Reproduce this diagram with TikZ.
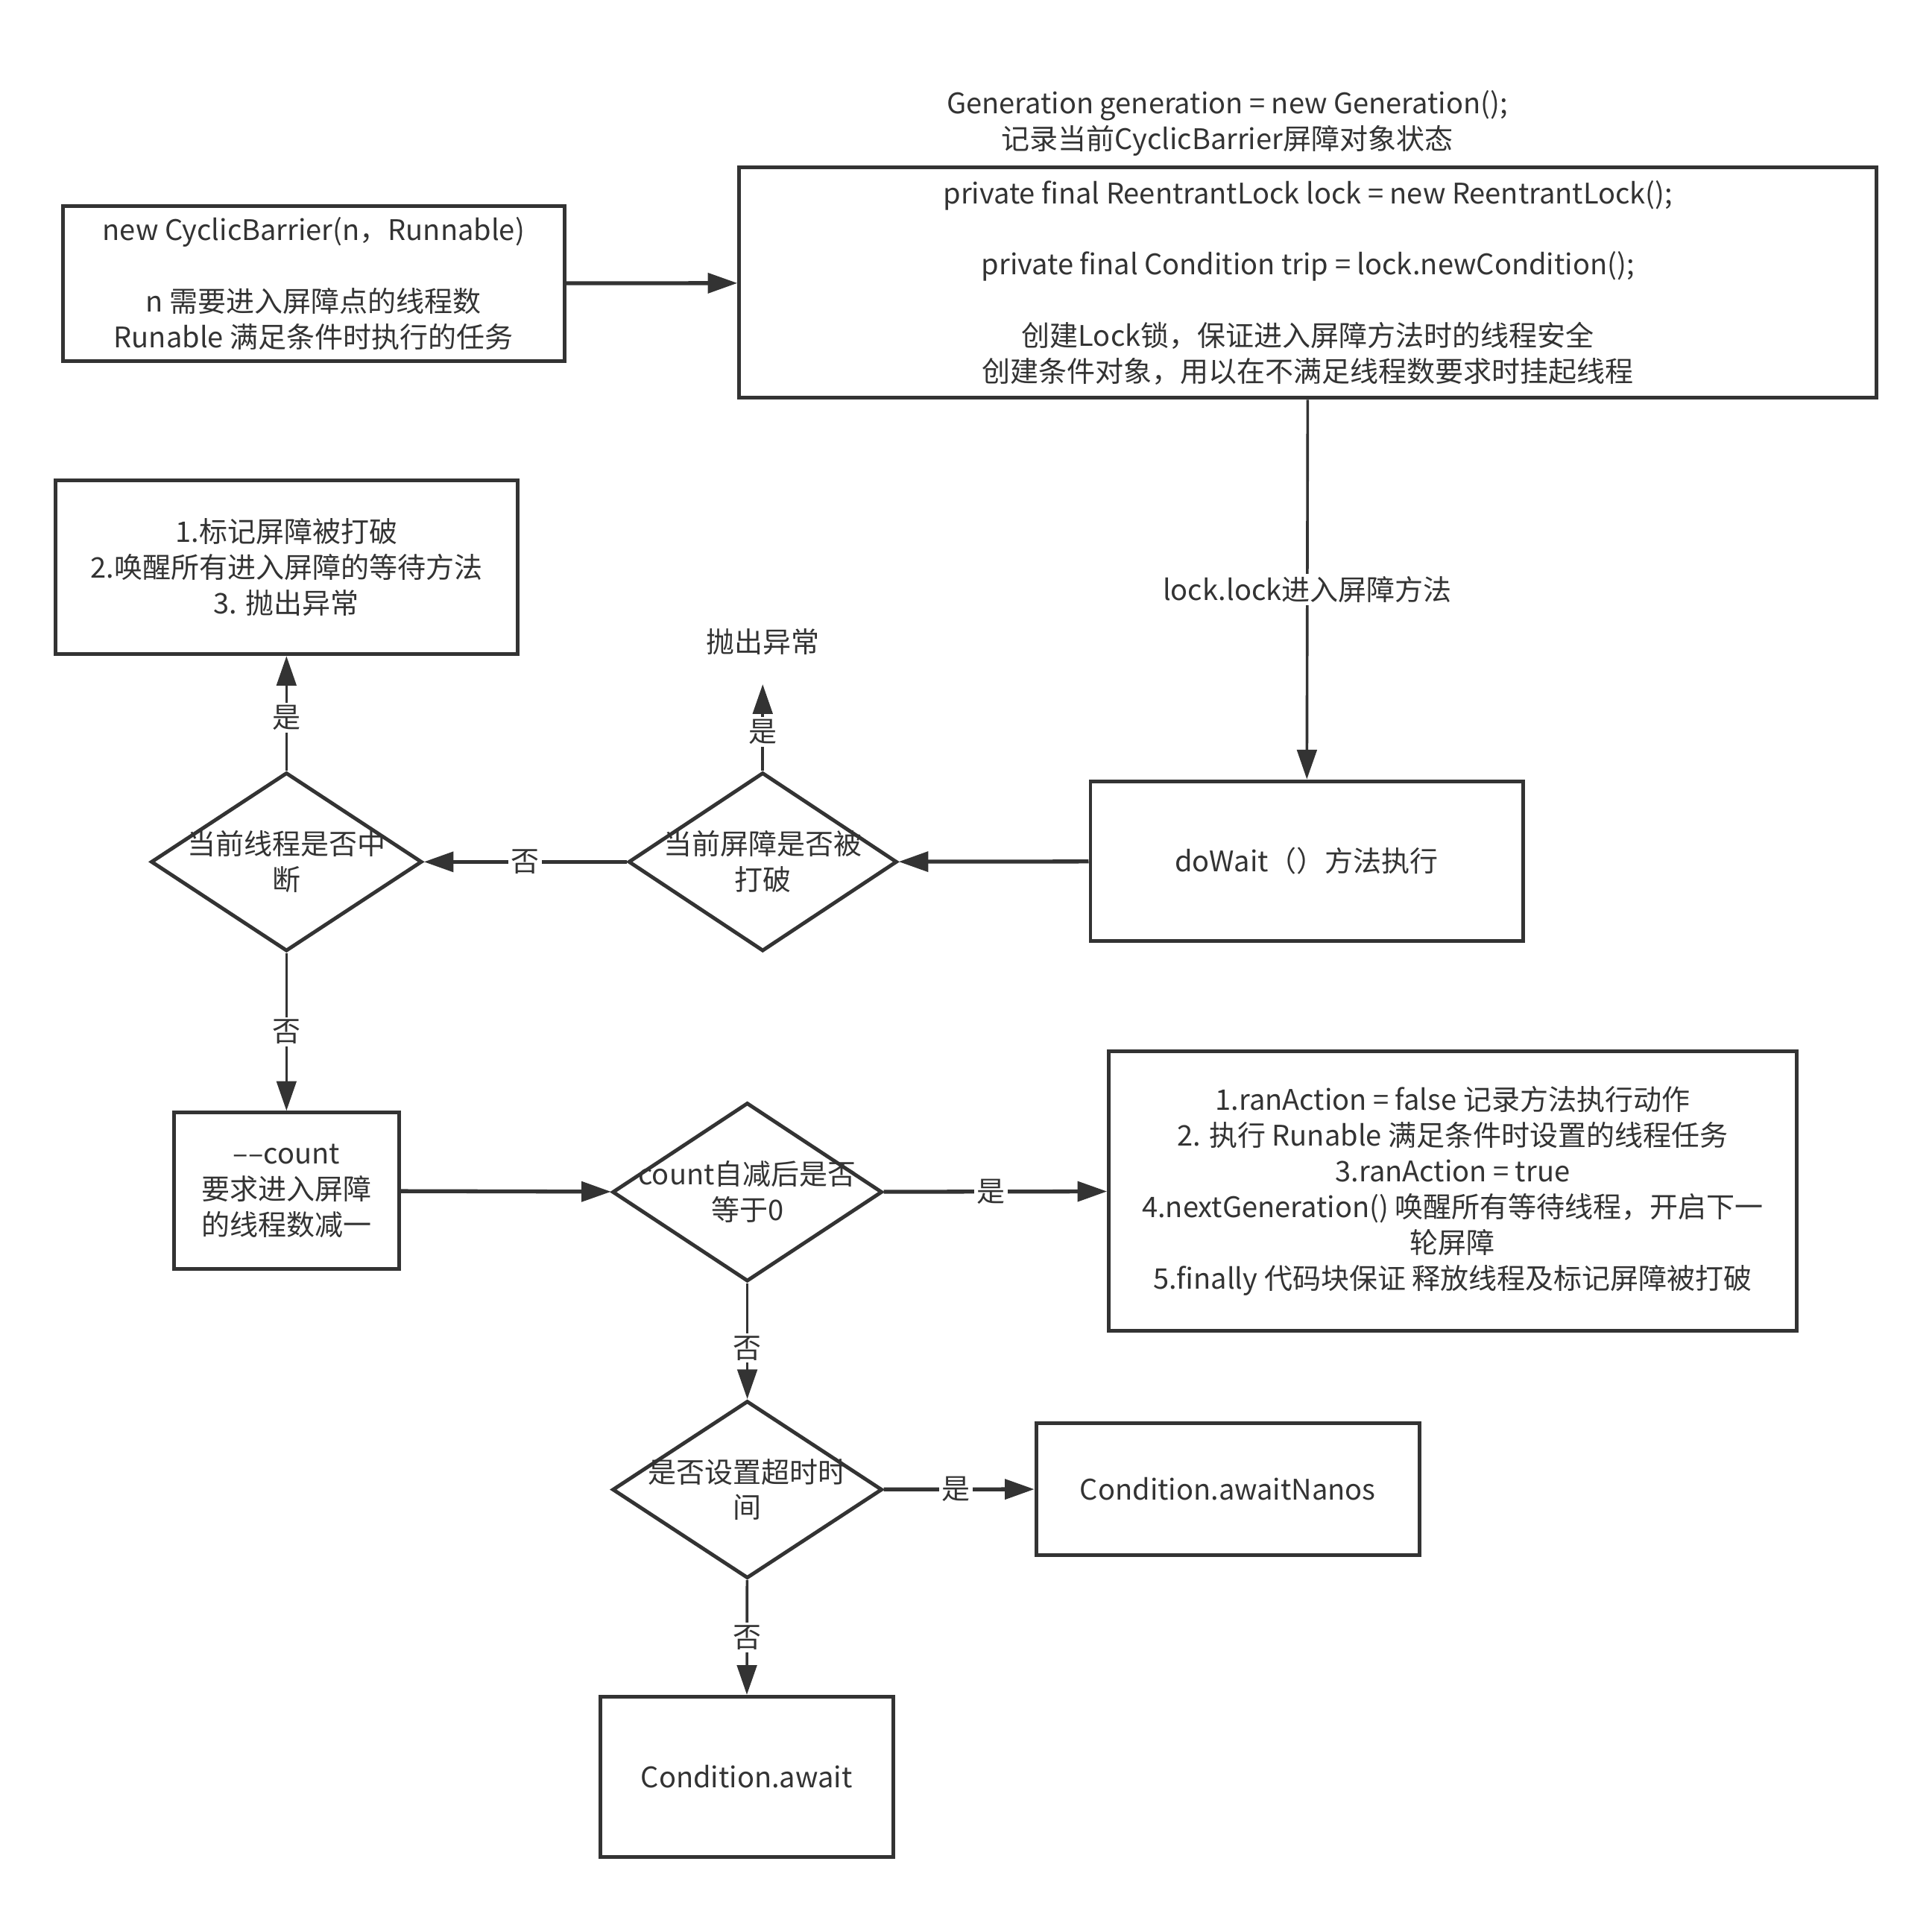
\documentclass[tikz,border=0pt]{standalone}
\usepackage{fontspec}
\setmainfont{Noto Sans CJK SC}
\usepackage{tikz}
\usetikzlibrary{shapes.geometric,arrows.meta}
\definecolor{ink}{HTML}{333333}
\tikzstyle{block} = [rectangle, draw=ink, line width=1.5pt, fill=white, align=center, text=ink, inner sep=2pt]
\tikzstyle{decision} = [diamond, draw=ink, line width=1.5pt, fill=white, inner sep=0pt]
\tikzstyle{plain} = [draw=none, align=center, text=ink]
\tikzstyle{tag} = [fill=white, inner sep=1pt, text=ink]
\tikzstyle{flow} = [draw=ink, line width=1.1pt]
\tikzstyle{thickflow} = [draw=ink, line width=1.6pt]

\begin{document}
\begin{tikzpicture}[->,>={Triangle[length=12pt,width=8pt]},x=0.5pt,y=-0.5pt,
  font=\fontsize{11.5pt}{14.5pt}\selectfont]
  \useasboundingbox (0,0) rectangle (1568,1553);

  \node[plain] (gen) at (996,100) {Generation generation = new Generation();\\记录当前CyclicBarrier屏障对象状态};
  \node[block, minimum width=203.5pt, minimum height=63pt] (create) at (254.5,230)
    {new CyclicBarrier(n，Runnable)\\[14.5pt]n 需要进入屏障点的线程数\\Runable 满足条件时执行的任务};
  \node[block, minimum width=461.5pt, minimum height=93.5pt] (fields) at (1061.5,229.5)
    {private final ReentrantLock lock = new ReentrantLock();\\[14.5pt]private final Condition trip = lock.newCondition();\\[14.5pt]创建Lock锁，保证进入屏障方法时的线程安全\\创建条件对象，用以在不满足线程数要求时挂起线程};
  \node[block, minimum width=175.5pt, minimum height=65pt] (dowait) at (1060.5,699) {doWait（）方法执行};

  \node[decision, minimum width=109pt, minimum height=72.5pt,
    label={[plain]center:当前屏障是否被\\打破}] (broken) at (619,699.5) {};
  \node[plain, minimum height=34pt] (throw) at (619,521) {抛出异常};
  \node[decision, minimum width=110pt, minimum height=72.5pt,
    label={[plain]center:当前线程是否中\\断}] (interrupt) at (232.5,699.5) {};
  \node[block, minimum width=187.5pt, minimum height=70.5pt] (breakbar) at (232.5,460.5)
    {1.标记屏障被打破\\2.唤醒所有进入屏障的等待方法\\3. 抛出异常};

  \node[block, minimum width=91.5pt, minimum height=63.5pt] (count) at (232.5,966.5)
    {–{}–count\\要求进入屏障\\的线程数减一};
  \node[decision, minimum width=109.5pt, minimum height=72.5pt,
    label={[plain]center:count自减后是否\\等于0}] (zero) at (606.5,967.5) {};
  \node[block, minimum width=279pt, minimum height=113.5pt] (trip) at (1179,966.5)
    {1.ranAction = false 记录方法执行动作\\2. 执行 Runable 满足条件时设置的线程任务\\3.ranAction = true\\4.nextGeneration() 唤醒所有等待线程，开启下一\\轮屏障\\5.finally 代码块保证 释放线程及标记屏障被打破};

  \node[decision, minimum width=109.5pt, minimum height=72pt,
    label={[plain]center:是否设置超时时\\间}] (timed) at (606.5,1209) {};
  \node[block, minimum width=155.5pt, minimum height=53.5pt] (nanos) at (996.5,1208.5) {Condition.awaitNanos};
  \node[block, minimum width=119pt, minimum height=65pt] (await) at (606,1442) {Condition.await};

  \path (create) edge[thickflow] (fields);
  \path (fields) edge[flow] node[tag] {lock.lock进入屏障方法} (dowait);
  \path (dowait) edge[thickflow] (broken);
  \path (broken) edge[flow] node[tag, pos=0.45] {是} (throw);
  \path (broken) edge[thickflow] node[tag] {否} (interrupt);
  \path (interrupt) edge[flow] node[tag, pos=0.46] {是} (breakbar);
  \path (interrupt) edge[flow] node[tag] {否} (count);
  \path (count) edge[thickflow] (zero);
  \path (zero) edge[thickflow] node[tag, pos=0.48] {是} (trip);
  \path (zero) edge[flow] node[tag, pos=0.56] {否} (timed);
  \path (timed) edge[thickflow] node[tag, pos=0.48] {是} (nanos);
  \path (timed) edge[flow] node[tag] {否} (await);
\end{tikzpicture}
\end{document}
